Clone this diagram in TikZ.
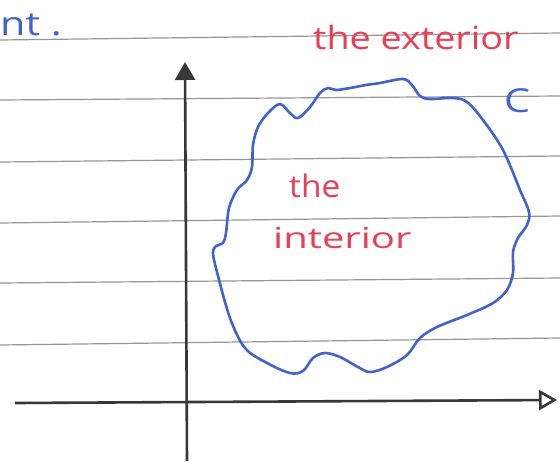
\documentclass[tikz,border=0pt]{standalone}
\usepackage{fontspec}
\setmainfont{Open Sans}
\usetikzlibrary{arrows.meta}
\definecolor{inkblue}{RGB}{66,98,208}
\definecolor{inkred}{RGB}{232,62,86}
\definecolor{rulegray}{RGB}{150,150,150}
\definecolor{pencil}{RGB}{55,55,55}
\tikzset{
  ruled/.style={draw=rulegray, line width=1.2pt},
  axis/.style={draw=pencil, line width=2.6pt},
  redtext/.style={text=inkred, inner sep=0pt, anchor=base west},
  bluetext/.style={text=inkblue, inner sep=0pt, anchor=base west},
  curveC/.style={draw=inkblue, line width=2.6pt, line join=round}
}
\begin{document}
\begin{tikzpicture}[x=1pt,y=-1pt]
\fill[white] (0,0) rectangle (560,461);
\useasboundingbox (0,0) rectangle (560,461);
% ruled lines
\draw[ruled] (0,40) -- (560,33);
\draw[ruled] (0,100) -- (560,96);
\draw[ruled] (0,162) -- (560,156);
\draw[ruled] (0,223) -- (560,216);
\draw[ruled] (0,283) -- (560,278);
\draw[ruled] (0,345) -- (560,338);
% axes
\coordinate (xs) at (15,403);
\coordinate (xe) at (557,400);
\coordinate (ys) at (187,461);
\coordinate (ye) at (185,62);
\draw[axis, -{Triangle[length=18pt,width=20pt]}] (ys) -- (ye);
\draw[axis, -{Triangle[open,length=18pt,width=20pt]}] (xs) -- (xe);
% curve C
\draw[curveC] plot[smooth cycle, tension=0.55] coordinates {
(380,83) (403,79) (412,85) (420,96) (430,99) (453,98) (467,102) (483,120)
(503,150) (520,190) (529,212) (527,225) (518,238) (513,252) (513,273)
(507,290) (493,303) (467,315) (437,327) (420,338) (407,355) (387,367)
(370,372) (358,367) (340,357) (325,353) (313,358) (303,371) (290,373)
(267,363) (245,348) (230,318) (217,272) (213,253) (216,246) (223,243)
(226,233) (229,208) (237,190) (247,180) (252,167) (253,145)
(258,127) (268,113) (280,104) (290,113) (298,118) (310,107)
(320,93) (328,88) (336,90) (350,88) (366,85)};
% texts
\node[bluetext, font=\fontsize{33}{34}\selectfont] (nt) at (0,35) {\scalebox{1.25}[1]{nt .}};
\node[redtext, font=\fontsize{32}{34}\selectfont] (ext) at (313,49) {\scalebox{1.18}[1]{the exterior}};
\node[bluetext, font=\fontsize{33}{34}\selectfont] (clab) at (504,112) {\scalebox{1.25}[1]{C}};
\node[redtext, font=\fontsize{31}{32}\selectfont] (the) at (289,197) {\scalebox{1.08}[1]{the}};
\node[redtext, font=\fontsize{29}{30}\selectfont] (int) at (273,248) {\scalebox{1.38}[1]{interior}};
\end{tikzpicture}
\end{document}
